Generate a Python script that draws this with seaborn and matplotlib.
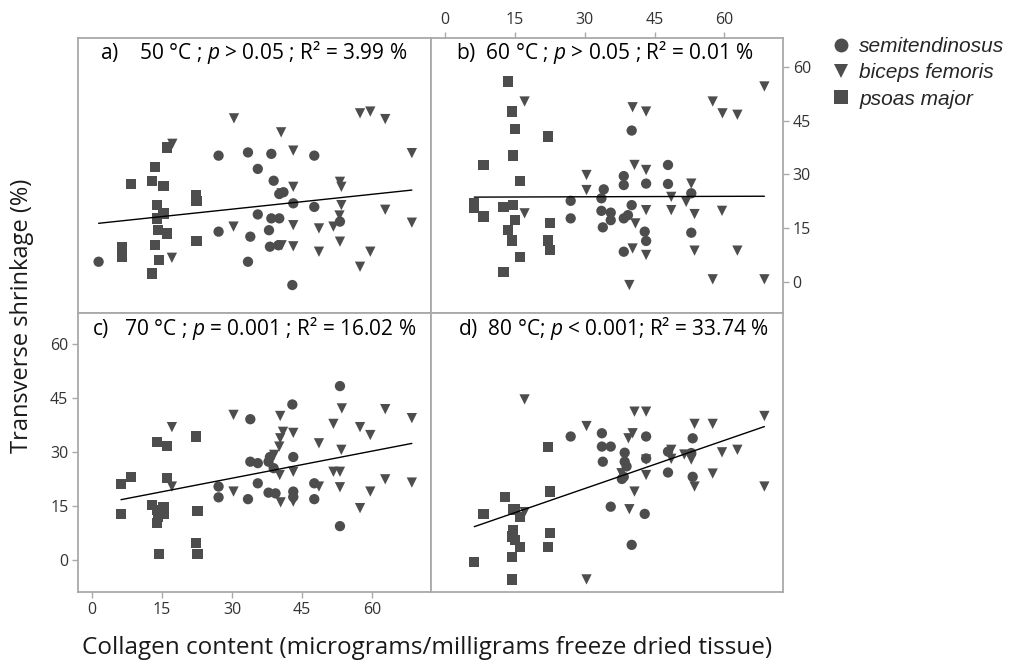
import pandas as pd
import matplotlib.pyplot as plt
import seaborn as sns

# Dados: (colageno, encolhimento transversal)
a_semi = [(1.4, 5.6), (27.1, 35.2), (33.4, 36.1), (38.4, 35.7), (47.6, 35.2), (35.5, 31.5),
          (38.9, 28.2), (40.1, 24.5), (41.0, 25.0), (43.1, 21.9), (47.6, 20.9), (35.5, 18.8),
          (38.4, 17.7), (40.1, 17.7), (27.1, 14.0), (33.9, 12.6), (37.9, 14.4), (38.1, 9.8),
          (39.9, 10.2), (33.4, 5.6), (42.9, -0.9), (53.1, 16.8)]
a_bice = [(30.4, 45.6), (40.5, 41.7), (43.1, 36.6), (57.4, 47.0), (59.6, 47.5), (62.8, 45.4),
          (68.5, 35.9), (53.1, 27.9), (53.4, 26.5), (43.1, 26.5), (40.6, 24.7), (53.4, 21.4),
          (62.8, 20.1), (68.5, 16.5), (30.3, 15.4), (43.1, 15.8), (48.6, 14.9), (51.7, 15.4),
          (53.1, 11.2), (40.6, 10.2), (43.1, 9.9), (48.6, 8.4), (59.6, 8.4), (57.4, 4.2),
          (17.1, 6.7), (17.2, 38.5), (53.0, 18.5)]
a_psoa = [(16.0, 37.5), (13.5, 32.1), (8.4, 27.3), (12.8, 28.2), (15.3, 26.8), (22.2, 24.2),
          (22.4, 22.6), (13.9, 21.4), (15.3, 19.1), (13.9, 17.7), (14.2, 14.4), (16.0, 13.5),
          (22.4, 11.4), (13.5, 10.3), (6.4, 9.8), (6.4, 7.0), (14.4, 6.1), (12.8, 2.3)]

b_semi = [(40.1, 42.2), (47.9, 32.6), (38.4, 29.5), (38.4, 27.0), (43.2, 27.4), (47.9, 27.3),
          (34.1, 25.8), (33.6, 23.3), (27.0, 22.6), (27.0, 17.7), (33.6, 19.8), (35.6, 19.3),
          (35.6, 17.2), (33.9, 15.2), (40.1, 21.4), (39.3, 18.6), (38.4, 17.7), (42.9, 14.0),
          (43.2, 11.4), (38.4, 8.4), (52.9, 13.7), (52.9, 24.7)]
b_bice = [(68.6, 54.5), (17.1, 50.3), (40.3, 48.7), (43.2, 47.5), (57.5, 50.3), (59.6, 47.0),
          (62.8, 46.6), (40.7, 32.6), (43.2, 31.2), (30.4, 29.8), (30.4, 25.6), (52.9, 27.4),
          (48.6, 23.7), (51.8, 22.3), (48.6, 20.0), (43.2, 20.0), (53.6, 18.9), (59.5, 19.8),
          (17.1, 19.1), (40.9, 16.3), (40.3, 9.3), (43.2, 7.5), (53.6, 8.7), (62.8, 8.7),
          (39.6, -0.9), (57.5, 0.7), (68.6, 0.7)]
b_psoa = [(13.6, 55.9), (14.4, 47.5), (15.1, 42.7), (22.1, 40.5), (14.6, 35.2), (8.3, 32.6),
          (16.1, 28.2), (6.3, 21.9), (6.3, 20.5), (8.3, 18.2), (12.6, 20.9), (14.6, 21.4),
          (15.1, 17.2), (13.6, 14.4), (14.4, 11.5), (16.1, 7.0), (12.6, 2.8), (22.5, 16.5),
          (22.1, 11.5), (22.5, 8.9)]

c_semi = [(53.1, 48.3), (42.9, 43.2), (33.9, 39.1), (33.9, 27.3), (35.5, 26.9), (37.8, 27.3),
          (38.1, 28.6), (43.1, 28.6), (27.1, 20.4), (27.1, 17.4), (35.5, 21.3), (33.4, 16.9),
          (37.8, 18.7), (39.3, 18.5), (43.1, 19.0), (47.6, 21.3), (47.6, 16.9), (53.1, 9.4),
          (43.1, 17.5), (38.9, 25.5)]
c_bice = [(30.3, 40.3), (40.3, 40.0), (40.9, 35.6), (43.1, 35.3), (40.3, 33.8), (40.1, 31.5),
          (39.0, 29.2), (17.1, 36.9), (53.5, 42.1), (62.8, 41.9), (68.5, 39.4), (51.7, 37.8),
          (57.4, 36.9), (59.6, 34.7), (48.6, 32.4), (53.4, 30.6), (43.1, 24.5), (51.7, 24.5),
          (53.1, 24.5), (40.2, 23.6), (62.8, 22.4), (68.5, 21.5), (17.1, 20.4), (30.3, 19.0),
          (48.6, 20.4), (53.1, 20.2), (59.6, 19.0), (43.1, 16.2), (40.4, 16.0), (57.4, 14.4)]
c_psoa = [(6.2, 21.1), (8.4, 23.1), (6.2, 12.8), (13.9, 32.7), (16.0, 31.7), (16.0, 22.7),
          (22.2, 34.3), (12.8, 15.3), (13.9, 13.9), (15.3, 14.7), (14.2, 12.0), (15.3, 12.8),
          (13.9, 10.2), (14.4, 1.6), (22.6, 13.7), (22.2, 4.8), (22.6, 1.6)]

d_semi = [(27.0, 34.3), (33.7, 35.2), (33.7, 31.5), (35.6, 31.5), (33.9, 27.3), (43.2, 34.3),
          (38.6, 29.8), (38.6, 27.3), (39.0, 26.0), (38.4, 23.1), (43.2, 28.2), (47.9, 30.1),
          (47.9, 24.3), (53.2, 33.8), (53.2, 23.1), (52.9, 29.7), (35.6, 14.8), (42.9, 12.8),
          (40.1, 4.2), (38.0, 22.5)]
d_bice = [(17.1, 44.6), (17.1, 13.3), (30.4, 37.2), (30.4, -5.4), (40.7, 41.2), (43.2, 41.2),
          (40.3, 35.2), (39.4, 33.8), (53.6, 37.8), (57.5, 37.8), (68.6, 40.0), (48.6, 30.6),
          (48.6, 28.1), (51.4, 29.3), (52.9, 27.9), (59.5, 29.9), (62.8, 30.6), (43.2, 27.9),
          (43.2, 23.6), (57.5, 24.0), (53.6, 20.4), (68.6, 20.4), (40.7, 19.0), (39.6, 14.1),
          (37.9, 24.1)]
d_psoa = [(6.3, -0.5), (8.3, 12.8), (12.9, 17.4), (14.6, 14.1), (15.0, 14.0), (16.1, 12.0),
          (14.6, 8.3), (14.4, 6.5), (15.0, 5.6), (16.1, 3.7), (14.4, 0.9), (14.4, -5.4),
          (22.1, 31.3), (22.5, 19.0), (22.5, 7.4), (22.1, 3.7)]

musculos = ["semitendinosus", "biceps femoris", "psoas major"]
marcadores = {"semitendinosus": "o", "biceps femoris": "v", "psoas major": "s"}
titulos = [
    r"a)    50 °C ; $\it{p}$ > 0.05 ; R² = 3.99 %",
    r"b)  60 °C ; $\it{p}$ > 0.05 ; R² = 0.01 %",
    r"c)   70 °C ; $\it{p}$ = 0.001 ; R² = 16.02 %",
    r"d)  80 °C; $\it{p}$ < 0.001; R² = 33.74 %",
]
paineis = [(a_semi, a_bice, a_psoa), (b_semi, b_bice, b_psoa),
           (c_semi, c_bice, c_psoa), (d_semi, d_bice, d_psoa)]
ticks = [0, 15, 30, 45, 60]

sns.set_theme(style="white")
plt.rcParams['font.family'] = ['Open Sans', 'DejaVu Sans']
plt.rcParams['mathtext.fontset'] = 'custom'
plt.rcParams['mathtext.rm'] = 'Open Sans'
plt.rcParams['mathtext.it'] = 'Open Sans:italic'

cinza = '#4d4d4d'
borda = '#a9a9a9'

fig = plt.figure(figsize=(10.11, 6.64), dpi=100)
posicoes = [
    [0.0772, 0.5286, 0.3491, 0.4146],
    [0.4263, 0.5286, 0.3482, 0.4146],
    [0.0772, 0.1084, 0.3491, 0.4202],
    [0.4263, 0.1084, 0.3482, 0.4202],
]

for i, (pos, dados, titulo) in enumerate(zip(posicoes, paineis, titulos)):
    ax = fig.add_axes(pos)
    linhas = []
    for musc, pts in zip(musculos, dados):
        for x, y in pts:
            linhas.append({"colageno": x, "encolhimento": y, "musculo": musc})
    df = pd.DataFrame(linhas)

    sns.scatterplot(
        data=df, x="colageno", y="encolhimento", style="musculo",
        markers=marcadores, style_order=musculos, color=cinza,
        s=55, edgecolor='none', linewidth=0, ax=ax, legend=(i == 0),
    )
    sns.regplot(
        data=df, x="colageno", y="encolhimento", scatter=False, ci=None,
        color='black', line_kws={'lw': 1.0}, ax=ax, truncate=True,
    )

    ax.set_xlim(-3, 72.6)
    if i < 2:
        ax.set_ylim(-8.7, 68.1)
    else:
        ax.set_ylim(-8.9, 68.6)
    ax.set_xticks(ticks)
    ax.set_yticks(ticks)
    ax.set_xlabel("")
    ax.set_ylabel("")
    for sp in ax.spines.values():
        sp.set_color(borda)
        sp.set_linewidth(1.3)

    ax.tick_params(length=4, width=1, color=borda, labelsize=11.5, labelcolor='#333333', pad=3)
    if i == 0:
        ax.tick_params(bottom=False, left=False, labelbottom=False, labelleft=False)
    elif i == 1:
        ax.tick_params(bottom=False, left=False, labelbottom=False, labelleft=False,
                       top=True, right=True, labeltop=True, labelright=True)
    elif i == 2:
        ax.tick_params(bottom=True, left=True)
    else:
        ax.tick_params(bottom=False, left=False, labelbottom=False, labelleft=False)

    tx = [0.062, 0.071, 0.04, 0.077][i]
    ax.text(tx, 0.945, titulo, transform=ax.transAxes, fontsize=15,
            ha='left', va='center', color='black')

    if i == 0:
        handles, labels = ax.get_legend_handles_labels()
        ax.get_legend().remove()

for h in handles:
    h.set_markersize(10)
fig.legend(handles, labels, loc='upper left', bbox_to_anchor=(0.819, 0.944),
           frameon=False, prop={'family': 'Liberation Sans', 'style': 'italic', 'size': 15},
           handletextpad=0.3, labelspacing=0.35, handlelength=1.2, borderaxespad=0,
           borderpad=0)

fig.text(0.022, 0.525, "Transverse shrinkage (%)", rotation=90, ha='center', va='center',
         fontsize=17, color='#1a1a1a')
fig.text(0.422, 0.024, "Collagen content (micrograms/milligrams freeze dried tissue)",
         ha='center', va='center', fontsize=17.5, color='#1a1a1a')

plt.savefig("out.png", dpi=100)
plt.close()
